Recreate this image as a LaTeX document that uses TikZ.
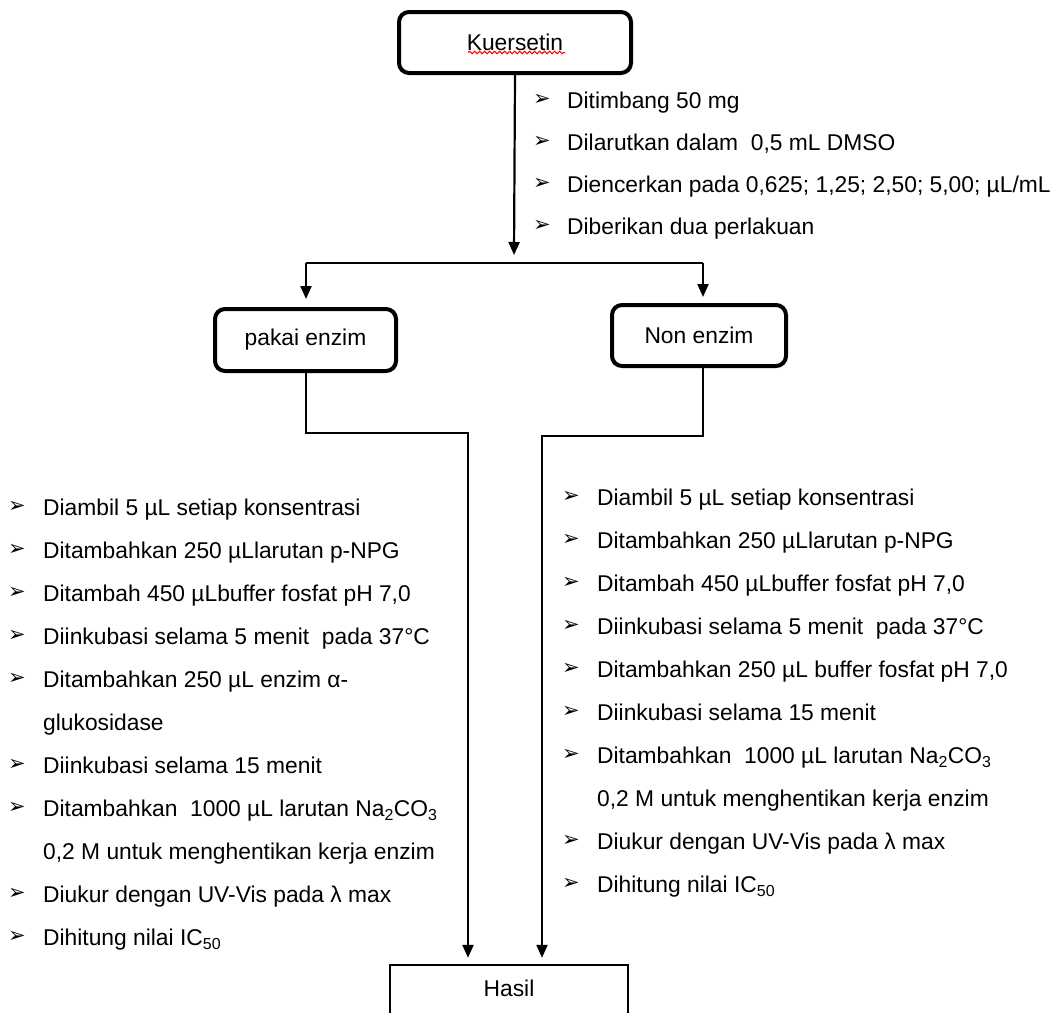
\documentclass[tikz,border=0pt]{standalone}
\usepackage{fontspec}
\setmainfont{Liberation Sans}
\newfontfamily\symfont{DejaVu Sans}
\usetikzlibrary{arrows.meta,decorations.pathmorphing,calc}

% one bulleted line: name, bullet x, text x, centre y, text
\newcommand\bline[5]{%
  \node[bul] (#1b) at (#2,#4) {➢};
  \node[txt] (#1) at (#3,#4+8) {#5};}
% continuation line without bullet: name, text x, centre y, text
\newcommand\contline[4]{\node[txt] (#1) at (#2,#3+8) {#4};}

\begin{document}
\begin{tikzpicture}[x=1pt,y=-1pt,
  font=\fontsize{22.8pt}{27pt}\selectfont,
  rbox/.style={draw, line width=4pt, rounded corners=10pt, inner sep=0pt},
  conn/.style={line width=2.2pt},
  arr/.style={conn, -{Triangle[length=13pt,width=11pt]}},
  txt/.style={anchor=base west, inner sep=0pt},
  bul/.style={anchor=center, inner sep=0pt, font=\symfont\fontsize{21pt}{21pt}\selectfont},
]
\fill[white] (0,0) rectangle (1056,1012);
\clip (0,0) rectangle (1056,1012);

% main boxes
\node[rbox, minimum width=232pt, minimum height=61pt] (kuer) at (515,42.5) {Kuersetin};
\draw[red, line width=1pt, decorate, decoration={snake, segment length=5pt, amplitude=1.3pt}]
  ($(kuer.center)+(-47,10)$) -- ($(kuer.center)+(50,10)$);
\node[rbox, minimum width=181pt, minimum height=62pt] (pakai) at (305.5,340) {pakai enzim};
\node[rbox, minimum width=174pt, minimum height=61pt] (non) at (699,335.5) {Non enzim};
\node[inner sep=0pt, minimum width=238pt, minimum height=46pt] (hasil) at (509,988) {Hasil};
\draw[line width=2.5pt] ([yshift=-80pt]hasil.north west) -- (hasil.north west)
  -- (hasil.north east) -- ([yshift=-80pt]hasil.north east);

% preparation steps
\bline{t1}{542}{567}{100}{Ditimbang 50 mg}
\bline{t2}{542}{567}{142}{Dilarutkan dalam\ \ 0,5 mL DMSO}
\bline{t3}{542}{567}{184}{Diencerkan pada 0,625; 1,25; 2,50; 5,00; µL/mL}
\bline{t4}{542}{567}{226}{Diberikan dua perlakuan}

% split into the two treatments
\coordinate (split) at (514,263);
\coordinate (bl) at (306,263);
\coordinate (br) at (703,263);
\draw[arr] (kuer.south) -- ([yshift=8pt]split);
\draw[conn] (bl) -- (br);
\draw[arr, shorten >=8pt] (bl) -- (bl |- pakai.north);
\draw[arr, shorten >=6pt] (br) -- (br |- non.north);

% enzyme branch
\bline{l1}{17}{43}{507}{Diambil 5 µL setiap konsentrasi}
\bline{l2}{17}{43}{550}{Ditambahkan 250 µLlarutan p-NPG}
\bline{l3}{17}{43}{593}{Ditambah 450 µLbuffer fosfat pH 7,0}
\bline{l4}{17}{43}{636}{Diinkubasi selama 5 menit\ \ pada 37°C}
\bline{l5}{17}{43}{679}{Ditambahkan 250 µL enzim α-}
\contline{l6}{43}{722}{glukosidase}
\bline{l7}{17}{43}{765}{Diinkubasi selama 15 menit}
\bline{l8}{17}{43}{808}{Ditambahkan\ \ 1000 µL larutan Na\textsubscript{2}CO\textsubscript{3}}
\contline{l9}{43}{851}{0,2 M untuk menghentikan kerja enzim}
\bline{l10}{17}{43}{894}{Diukur dengan UV-Vis pada λ max}
\bline{l11}{17}{43}{937}{Dihitung nilai IC\textsubscript{50}}

% non-enzyme branch
\bline{r1}{571}{597}{497}{Diambil 5 µL setiap konsentrasi}
\bline{r2}{571}{597}{540}{Ditambahkan 250 µLlarutan p-NPG}
\bline{r3}{571}{597}{583}{Ditambah 450 µLbuffer fosfat pH 7,0}
\bline{r4}{571}{597}{626}{Diinkubasi selama 5 menit\ \ pada 37°C}
\bline{r5}{571}{597}{669}{Ditambahkan 250 µL buffer fosfat pH 7,0}
\bline{r6}{571}{597}{712}{Diinkubasi selama 15 menit}
\bline{r7}{571}{597}{755}{Ditambahkan\ \ 1000 µL larutan Na\textsubscript{2}CO\textsubscript{3}}
\contline{r8}{597}{798}{0,2 M untuk menghentikan kerja enzim}
\bline{r9}{571}{597}{841}{Diukur dengan UV-Vis pada λ max}
\bline{r10}{571}{597}{884}{Dihitung nilai IC\textsubscript{50}}

% both branches lead to the result
\coordinate (lj) at (468,433);
\coordinate (rj) at (542,436);
\draw[arr, shorten >=7pt] (pakai.south -| bl) |- (lj) -- (lj |- hasil.north);
\draw[arr, shorten >=7pt] (non.south -| br) |- (rj) -- (rj |- hasil.north);
\end{tikzpicture}
\end{document}
